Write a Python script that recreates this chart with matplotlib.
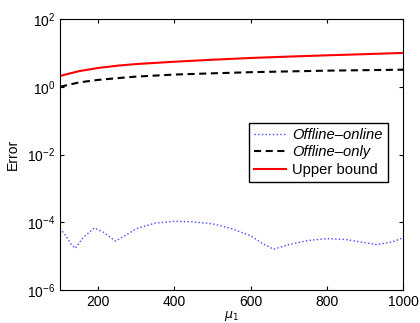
import numpy as np
import matplotlib.pyplot as plt

plt.rcParams['font.family'] = ['Liberation Sans', 'DejaVu Sans']

# values
mu_bound = [100, 150, 200, 250, 300, 400, 500, 600, 700, 800, 900, 1000]
upper_bound = [2.1, 2.9, 3.6, 4.2, 4.7, 5.5, 6.3, 7.1, 7.8, 8.5, 9.2, 10.0]
offline_only = [1.0, 1.35, 1.6, 1.8, 2.0, 2.3, 2.5, 2.7, 2.85, 3.0, 3.1, 3.2]

mu_oo = [100, 115, 130, 140, 160, 190, 215, 245, 270, 300, 350, 400, 450,
         500, 550, 600, 630, 660, 700, 750, 800, 850, 900, 930, 970, 1000]
offline_online = [6.6e-5, 4.0e-5, 2.2e-5, 1.7e-5, 3.5e-5, 6.8e-5, 5.0e-5,
                  2.8e-5, 4.0e-5, 6.5e-5, 9.5e-5, 1.07e-4, 1.03e-4, 9.0e-5,
                  6.5e-5, 4.0e-5, 2.4e-5, 1.6e-5, 2.2e-5, 2.9e-5, 3.3e-5,
                  3.1e-5, 2.5e-5, 2.2e-5, 2.6e-5, 3.5e-5]

fig = plt.figure(figsize=(4.2, 3.23), dpi=100)
ax = fig.add_axes([0.143, 0.102, 0.817, 0.839])

l1, = ax.semilogy(mu_oo, offline_online, ':', color='#4444ff', lw=1.0,
                  label='Offline\u2013online')
l2, = ax.semilogy(mu_bound, offline_only, '--', color='black', lw=1.5,
                  dashes=(3.4, 2.2), label='Offline\u2013only')
l3, = ax.semilogy(mu_bound, upper_bound, '-', color='red', lw=1.5,
                  label='Upper bound')

ax.set_xlim(100, 1000)
ax.set_ylim(1e-6, 1e2)
ax.set_xticks([200, 400, 600, 800, 1000])
ax.set_yticks([1e-6, 1e-4, 1e-2, 1e0, 1e2])
ax.minorticks_off()
ax.tick_params(direction='in', top=True, right=True, labelsize=10, length=3)
ax.set_xlabel(r'$\mu_1$', fontsize=9, labelpad=0)
ax.set_ylabel('Error', fontsize=10, labelpad=5)

leg = ax.legend(loc='upper right', bbox_to_anchor=(0.955, 0.618), fontsize=10.6,
                fancybox=False, edgecolor='black', framealpha=1,
                handlelength=2.2, handletextpad=0.4, borderpad=0.35,
                labelspacing=0.25, borderaxespad=0)
leg.get_frame().set_linewidth(1.0)
for t in leg.get_texts()[:2]:
    t.set_fontstyle('italic')

fig.savefig('out.png', dpi=100)
